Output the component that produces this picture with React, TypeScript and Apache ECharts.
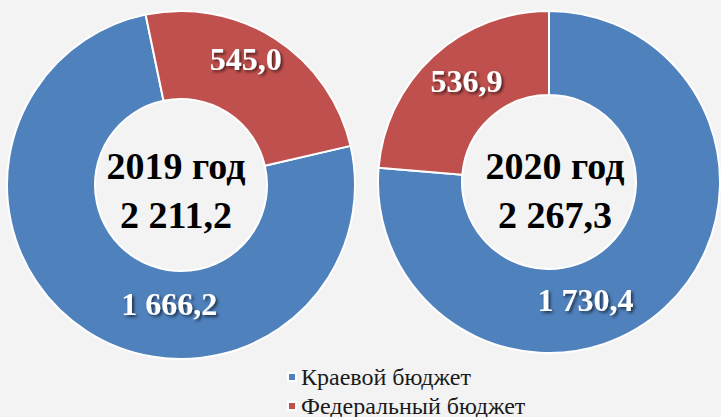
import React, { useEffect, useRef } from "react";
import * as echarts from "echarts";

const categories = ["Краевой бюджет", "Федеральный бюджет"];
const values2019 = [1666.2, 545.0];
const values2020 = [1730.4, 536.9];
const years = ["2019 год", "2020 год"];
const totals = ["2 211,2", "2 267,3"];
const colors = ["#4f81bd", "#c0504d"];

const fmt = (v: number) => {
  const [i, d] = v.toFixed(1).split(".");
  return i.replace(/\B(?=(\d{3})+(?!\d))/g, " ") + "," + d;
};

const SERIF = "Times New Roman, Liberation Serif, serif";

export default function App() {
  const ref = useRef<HTMLDivElement>(null);
  useEffect(() => {
    if (!ref.current) return;
    const chart = echarts.init(ref.current, undefined, { renderer: "svg" });
    const labelStyle = {
      show: true,
      position: "inside",
      color: "#ffffff",
      fontFamily: SERIF,
      fontWeight: "bold",
      fontSize: 32,
      textShadowColor: "rgba(0,0,0,0.6)",
      textShadowBlur: 3,
      textShadowOffsetX: 2,
      textShadowOffsetY: 2,
      formatter: (p: any) => fmt(p.value),
    };
    const offsets = [
      [[60, 7], [-7, -14]],
      [[-53, 21], [7, -4]],
    ];
    const mk = (vals: number[], idx: number, center: number[], radius: number[], startAngle: number) => ({
      type: "pie",
      center,
      radius,
      startAngle,
      clockwise: true,
      avoidLabelOverlap: false,
      silent: true,
      itemStyle: { borderColor: "#ffffff", borderWidth: 2 },
      label: labelStyle,
      labelLine: { show: false },
      emphasis: { disabled: true },
      data: vals.map((v, i) => ({
        name: categories[i],
        value: v,
        itemStyle: { color: colors[i] },
        label: { offset: offsets[idx][i] },
      })),
    });
    const legendCommon = {
      orient: "vertical",
      left: 287,
      itemWidth: 8,
      itemHeight: 8,
      icon: "rect",
      padding: 0,
      textStyle: { fontFamily: SERIF, fontSize: 24, color: "#1a1a1a" },
    };
    const centerText = (text: string, x: number, y: number) => ({
      type: "text",
      x,
      y,
      style: {
        text,
        fill: "#000",
        fontFamily: SERIF,
        fontWeight: "bold",
        fontSize: 38,
        textAlign: "center",
        textVerticalAlign: "middle",
      },
    });
    chart.setOption({
      animation: false,
      backgroundColor: "#f3f3f3",
      legend: [
        { ...legendCommon, top: 365, data: [categories[0]] },
        { ...legendCommon, top: 394, data: [categories[1]] },
      ],
      graphic: [
        centerText(years[0], 176, 166),
        centerText(totals[0], 176, 215),
        centerText(years[1], 555, 166),
        centerText(totals[1], 555, 215),
      ],
      series: [
        mk(values2019, 0, [181, 185], [86, 174], 13),
        mk(values2020, 1, [549, 182], [87, 171], 90),
      ],
    });
    return () => chart.dispose();
  }, []);
  return (
    <div
      ref={ref}
      style={{ position: "fixed", left: 0, top: 0, width: 721, height: 417 }}
    />
  );
}
